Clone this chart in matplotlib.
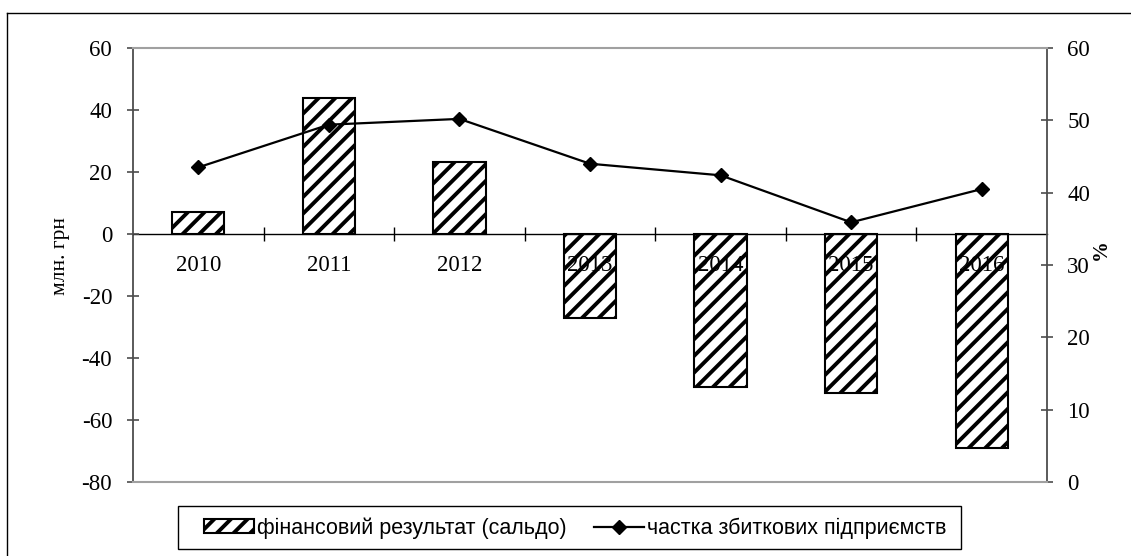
import numpy as np
import matplotlib.pyplot as plt
from matplotlib.patches import Rectangle
from matplotlib.lines import Line2D

# data
years = ["2010", "2011", "2012", "2013", "2014", "2015", "2016"]
saldo = [7.0, 44.0, 23.3, -27.0, -49.4, -51.4, -69.0]        # млн. грн
loss_share = [43.5, 49.4, 50.2, 44.0, 42.4, 35.9, 40.5]      # %

bar_label = "фінансовий результат (сальдо)"
line_label = "частка збиткових підприємств"

plt.rcParams['axes.unicode_minus'] = False
plt.rcParams['hatch.linewidth'] = 2.8
plt.rcParams['hatch.color'] = 'black'

W, H = 1131, 556
fig = plt.figure(figsize=(W / 100, H / 100), dpi=100)
fig.patch.set_facecolor('white')

# plot area in pixels: x 133..1047, y 48..482
ax = fig.add_axes([133 / W, 1 - 482 / H, (1047 - 133) / W, (482 - 48) / H])
ax.set_axisbelow(False)   # year labels sit on top of the negative bars
x = np.arange(len(years))

ax.bar(x, saldo, width=0.4, color='white', edgecolor='black',
       linewidth=1.5, hatch='//', zorder=1)

ax.set_xlim(-0.5, len(years) - 0.5)
ax.set_ylim(-80, 60)
ax.set_yticks(np.arange(-80, 61, 20))

serif = 'Liberation Serif'
dark = '#4d4d4d'
gray = '#a0a0a0'

ax.spines['bottom'].set_position(('data', 0))
ax.spines['bottom'].set_color('black')
ax.spines['bottom'].set_linewidth(1.0)
ax.spines['top'].set_visible(False)
ax.spines['right'].set_visible(False)
ax.spines['left'].set_color(dark)
ax.spines['left'].set_linewidth(1.3)

ax.set_xticks(x)
ax.set_xticklabels(years)
ax.set_xticks(x[:-1] + 0.5, minor=True)
ax.tick_params(axis='x', which='major', length=0, pad=15)
ax.tick_params(axis='x', which='minor', direction='inout', length=10,
               width=1.0, color='black')
ax.tick_params(axis='y', direction='inout', length=8, width=1.2,
               color=dark, pad=11)
for lab in ax.get_xticklabels() + ax.get_yticklabels():
    lab.set_fontfamily(serif)
    lab.set_fontsize(16.5)

ax2 = ax.twinx()
ax2.plot(x, loss_share, color='black', linewidth=1.6, marker='D',
         markersize=7.5, zorder=3)
ax2.set_ylim(0, 60)
ax2.set_yticks(np.arange(0, 61, 10))
ax2.spines['left'].set_visible(False)
ax2.spines['right'].set_color(dark)
ax2.spines['right'].set_linewidth(1.3)
ax2.spines['top'].set_color(gray)
ax2.spines['bottom'].set_color(gray)
ax2.spines['top'].set_linewidth(1.5)
ax2.spines['bottom'].set_linewidth(1.5)
ax2.tick_params(axis='y', direction='inout', length=9, width=1.2,
                color=dark, pad=10)
for lab in ax2.get_yticklabels():
    lab.set_fontfamily(serif)
    lab.set_fontsize(16.5)

# axis titles
fig.text(61 / W, 1 - 256 / H, "млн. грн", rotation=90, ha='center',
         va='center', fontfamily=serif, fontsize=15.5)
fig.text(1101 / W, 1 - 250 / H, "%", rotation=90, ha='center',
         va='center', fontfamily=serif, fontsize=15, fontweight='bold')

# outer border of the chart object
fig.add_artist(Line2D([7 / W, 7 / W], [0, 1 - 13 / H], transform=fig.transFigure,
                      color='black', linewidth=1.0))
fig.add_artist(Line2D([7 / W, 1], [1 - 13 / H, 1 - 13 / H],
                      transform=fig.transFigure, color='black', linewidth=1.0))

# legend box
fig.add_artist(Rectangle((178 / W, 1 - 549 / H), (961 - 178) / W, (549 - 506) / H,
                         transform=fig.transFigure, facecolor='white',
                         edgecolor='black', linewidth=1.0))
h_bar = Rectangle((0, 0), 1, 1, facecolor='white', edgecolor='black',
                  linewidth=1.5, hatch='//')
h_line = Line2D([], [], color='black', linewidth=1.6, marker='D', markersize=7.5)
leg = fig.legend([h_bar, h_line], [bar_label, line_label], ncol=2,
                 loc='center left', bbox_to_anchor=(204 / W, 1 - 528 / H),
                 frameon=False, prop={'family': 'Liberation Sans', 'size': 15.5},
                 handlelength=2.3, handleheight=0.6, handletextpad=0.15,
                 columnspacing=1.3, borderpad=0.0, borderaxespad=0.0)

fig.savefig("out.png", dpi=100)
